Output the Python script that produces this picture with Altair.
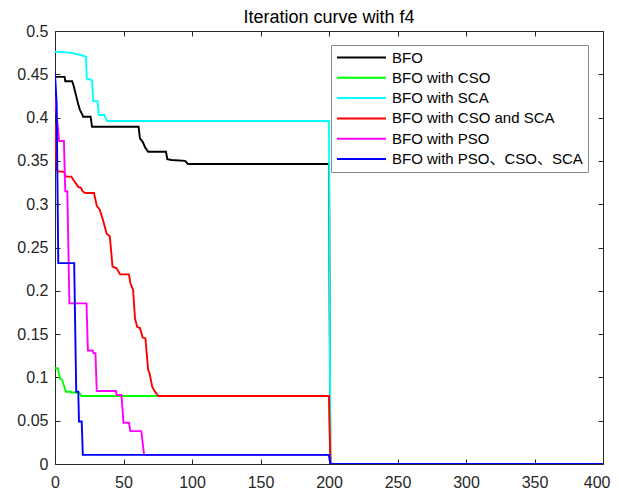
import altair as alt
import pandas as pd

series_names = ["BFO", "BFO with CSO", "BFO with SCA", "BFO with CSO and SCA",
                "BFO with PSO", "BFO with PSO、CSO、SCA"]
series_colors = ["#000000", "#00ff00", "#00ffff", "#ff0000", "#ff00ff", "#0000ff"]

bfo_x = [0, 7, 7.5, 12.5, 13.4, 15.3, 17, 18.2, 20.1, 20.5, 26, 27, 61, 62, 64, 66, 68, 81, 82, 85, 95, 97, 200, 201, 400]
bfo_y = [0.447, 0.447, 0.442, 0.442, 0.438, 0.426, 0.415, 0.409, 0.403, 0.401, 0.401, 0.3895, 0.3895, 0.376, 0.372, 0.365, 0.3606, 0.3606, 0.352, 0.351, 0.350, 0.3465, 0.3465, 0, 0]

cso_x = [0, 2, 3.6, 5.2, 6.6, 8, 11.7, 12, 17.5, 19.5, 200, 201, 400]
cso_y = [0.1105, 0.1105, 0.099, 0.097, 0.090, 0.0835, 0.0835, 0.0825, 0.0825, 0.0785, 0.0785, 0, 0]

sca_x = [0, 11, 19.5, 22.6, 23.2, 25.5, 27, 28, 31, 32, 36, 38, 200, 201, 400]
sca_y = [0.476, 0.475, 0.472, 0.470, 0.445, 0.444, 0.443, 0.419, 0.419, 0.403, 0.403, 0.396, 0.396, 0, 0]

csosca_x = [0, 1.2, 3, 6.5, 8, 12, 13.5, 17, 19, 20, 22, 28.5, 30.5, 32.6, 35, 37.7, 40, 42, 45, 47.5, 54, 55, 57,
            58.4, 60, 62, 64, 66, 68, 69, 71, 73, 75.4, 200, 201, 400]
csosca_y = [0.393, 0.339, 0.3376, 0.3376, 0.3318, 0.3318, 0.328, 0.320, 0.319, 0.315, 0.313, 0.313, 0.298, 0.294,
            0.282, 0.266, 0.263, 0.228, 0.226, 0.219, 0.219, 0.209, 0.201, 0.168, 0.1585, 0.157, 0.146, 0.145,
            0.1085, 0.105, 0.089, 0.0835, 0.0785, 0.0785, 0, 0]

pso_x = [0, 3, 6.5, 7.5, 9, 10.5, 23, 24, 27.5, 28, 29.5, 30.5, 44.5, 45, 48.5, 50, 54, 55, 63, 65, 200, 201, 400]
pso_y = [0.424, 0.373, 0.373, 0.315, 0.315, 0.1855, 0.1855, 0.131, 0.131, 0.128, 0.128, 0.0843, 0.0843, 0.0797,
         0.0797, 0.0477, 0.0477, 0.038, 0.038, 0.0105, 0.0105, 0, 0]

all_x = [0, 1.2, 2.4, 14, 15.5, 17, 17.5, 19.5, 20.3, 200, 201, 400]
all_y = [0.451, 0.4165, 0.232, 0.232, 0.0835, 0.0835, 0.049, 0.049, 0.0105, 0.0105, 0, 0]

xs = [bfo_x, cso_x, sca_x, csosca_x, pso_x, all_x]
ys = [bfo_y, cso_y, sca_y, csosca_y, pso_y, all_y]

rows = []
for i, (name, sx, sy) in enumerate(zip(series_names, xs, ys)):
    for j, (a, b) in enumerate(zip(sx, sy)):
        rows.append({"series": name, "order": i, "iter": a, "value": b, "idx": j})
df = pd.DataFrame(rows)

x_ticks = [0, 50, 100, 150, 200, 250, 300, 350, 400]
y_ticks = [0, 0.05, 0.1, 0.15, 0.2, 0.25, 0.3, 0.35, 0.4, 0.45, 0.5]

FONT = "Liberation Sans, Arial, Noto Sans CJK SC"
AX = "#262626"
inward = {"expr": "-5"}

xscale = alt.Scale(domain=[0, 400], nice=False, zero=False)
yscale = alt.Scale(domain=[0, 0.5], nice=False, zero=False)

lines = alt.Chart(df).mark_line(strokeWidth=1.9, clip=True).encode(
    x=alt.X("iter:Q", scale=xscale, title=None,
            axis=alt.Axis(orient="bottom", values=x_ticks, grid=False, tickSize=inward,
                          labelPadding=15, labelFontSize=16, labelFont=FONT, labelColor=AX,
                          domainColor=AX, tickColor=AX, labelFlush=False,
                          labelAlign=alt.condition("datum.value == 400", alt.value("right"), alt.value("center")),
                          labelOffset=alt.condition("datum.value == 400", alt.value(7), alt.value(0)))),
    y=alt.Y("value:Q", scale=yscale, title=None,
            axis=alt.Axis(orient="left", values=y_ticks, grid=False, tickSize=inward, format="~g",
                          labelPadding=12, labelFontSize=16, labelFont=FONT, labelColor=AX,
                          domainColor=AX, tickColor=AX, labelFlush=False)),
    color=alt.Color("series:N", sort=series_names,
                    scale=alt.Scale(domain=series_names, range=series_colors),
                    legend=alt.Legend(title=None, orient="none", legendX=276, legendY=14,
                                      symbolType="stroke", symbolSize=2401, symbolStrokeWidth=2,
                                      clipHeight=15, rowPadding=4.3, labelFontSize=15, labelFont=FONT,
                                      labelColor="#000000", labelOffset=5, padding=5,
                                      fillColor="white", strokeColor="#8a8a8a", labelLimit=400)),
    order=alt.Order("idx:Q"),
)

frame = alt.Chart(df).mark_line(opacity=0).encode(
    x=alt.X("iter:Q", scale=xscale, title=None,
            axis=alt.Axis(orient="top", values=x_ticks, grid=False, tickSize=inward, labels=False,
                          domainColor=AX, tickColor=AX)),
    y=alt.Y("value:Q", scale=yscale, title=None,
            axis=alt.Axis(orient="right", values=y_ticks, grid=False, tickSize=inward, labels=False,
                          domainColor=AX, tickColor=AX)),
    detail="series:N",
)

chart = alt.layer(lines, frame).resolve_axis(x="independent", y="independent").properties(
    width=548, height=433,
    title=alt.Title("Iteration curve with f4", fontSize=18, fontWeight="normal", font=FONT,
                    color="#000000", anchor="middle", offset=-4),
    autosize=alt.AutoSizeParams(type="none"),
    padding={"left": 47, "top": 23, "right": 8, "bottom": 28},
).configure_view(stroke=None)

chart.save("out.html", embed_options={"renderer": "svg", "actions": False})
